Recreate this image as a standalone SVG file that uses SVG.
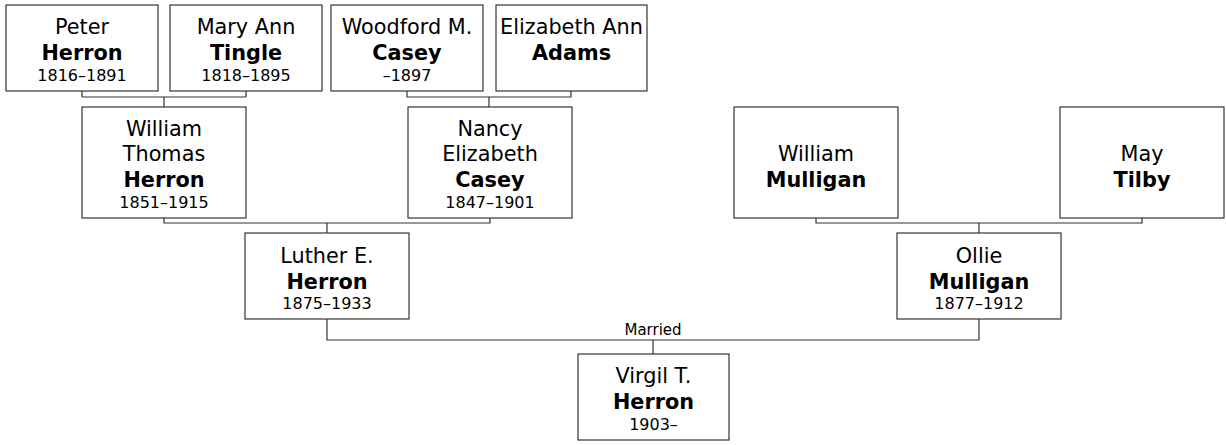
<svg xmlns="http://www.w3.org/2000/svg" width="1226" height="445" viewBox="0 0 1226 445">
<style>
.box{fill:#fff;stroke:#333;stroke-width:1.2}
.ln{fill:none;stroke:#333;stroke-width:1.2}
text{font-family:"DejaVu Sans","Liberation Sans",sans-serif;fill:#000;text-anchor:middle}
.n{font-size:20.8px}
.s{font-size:20.8px;font-weight:bold}
.d{font-size:16px}
.m{font-size:15px}
</style>
<rect width="1226" height="445" fill="#fff"/>
<g id="connectors">
<path class="ln" d="M82 91V97H246V91M164 97V107"/>
<path class="ln" d="M407 91V97H571V91M489 97V107"/>
<path class="ln" d="M164 218V223H490V218M327 223V233"/>
<path class="ln" d="M816 218V223H1142V218M979 223V233"/>
<path class="ln" d="M327 319V340H979V319M653 340V354"/>
<text class="m" x="653" y="335">Married</text>
</g>
<g id="peter">
<rect class="box" x="6" y="5" width="152" height="86"/>
<text class="n" x="82" y="34">Peter</text>
<text class="s" x="82" y="60">Herron</text>
<text class="d" x="82" y="81">1816–1891</text>
</g>
<g id="maryann">
<rect class="box" x="170" y="5" width="152" height="86"/>
<text class="n" x="246" y="34">Mary Ann</text>
<text class="s" x="246" y="60">Tingle</text>
<text class="d" x="246" y="81">1818–1895</text>
</g>
<g id="woodford">
<rect class="box" x="331" y="5" width="152" height="86"/>
<text class="n" x="407" y="34">Woodford M.</text>
<text class="s" x="407" y="60">Casey</text>
<text class="d" x="407" y="81">–1897</text>
</g>
<g id="elizabeth">
<rect class="box" x="496" y="5" width="151" height="86"/>
<text class="n" x="571.5" y="34">Elizabeth Ann</text>
<text class="s" x="571.5" y="60">Adams</text>
</g>
<g id="william">
<rect class="box" x="82" y="107" width="164" height="111"/>
<text class="n" x="164" y="135.5">William</text>
<text class="n" x="164" y="161">Thomas</text>
<text class="s" x="164" y="186.5">Herron</text>
<text class="d" x="164" y="208">1851–1915</text>
</g>
<g id="nancy">
<rect class="box" x="408" y="107" width="164" height="111"/>
<text class="n" x="490" y="135.5">Nancy</text>
<text class="n" x="490" y="161">Elizabeth</text>
<text class="s" x="490" y="186.5">Casey</text>
<text class="d" x="490" y="208">1847–1901</text>
</g>
<g id="williammulligan">
<rect class="box" x="734" y="107" width="164" height="111"/>
<text class="n" x="816" y="161">William</text>
<text class="s" x="816" y="186.5">Mulligan</text>
</g>
<g id="may">
<rect class="box" x="1060" y="107" width="164" height="111"/>
<text class="n" x="1142" y="161">May</text>
<text class="s" x="1142" y="186.5">Tilby</text>
</g>
<g id="luther">
<rect class="box" x="245" y="233" width="164" height="86"/>
<text class="n" x="327" y="262.5">Luther E.</text>
<text class="s" x="327" y="288.5">Herron</text>
<text class="d" x="327" y="308.5">1875–1933</text>
</g>
<g id="ollie">
<rect class="box" x="897" y="233" width="164" height="86"/>
<text class="n" x="979" y="262.5">Ollie</text>
<text class="s" x="979" y="288.5">Mulligan</text>
<text class="d" x="979" y="308.5">1877–1912</text>
</g>
<g id="virgil">
<rect class="box" x="578" y="354" width="151" height="86"/>
<text class="n" x="653.5" y="383">Virgil T.</text>
<text class="s" x="653.5" y="409">Herron</text>
<text class="d" x="653.5" y="429.5">1903–</text>
</g>
</svg>
